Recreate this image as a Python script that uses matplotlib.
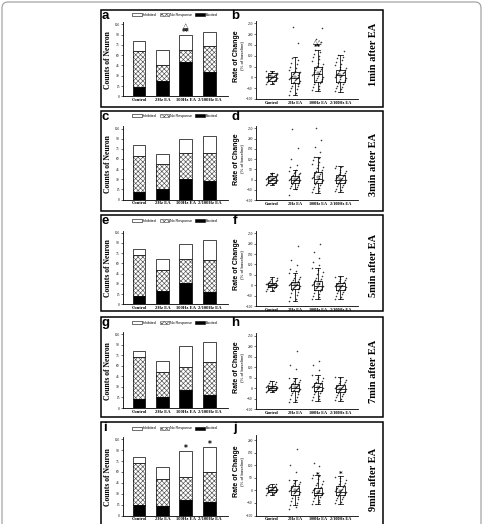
import numpy as np
import matplotlib
matplotlib.use('Agg')
import matplotlib.pyplot as plt
from matplotlib.patches import Rectangle, FancyBboxPatch, Patch

plt.rcParams['font.family'] = ['Liberation Serif', 'DejaVu Sans']
plt.rcParams['hatch.linewidth'] = 0.45

W, H = 483, 524

groups = ['Control', '2Hz EA', '100Hz EA', '2/100Hz EA']
times = ['1min after EA', '3min after EA', '5min after EA', '7min after EA', '9min after EA']
left_letters = ['a', 'c', 'e', 'g', 'i']
right_letters = ['b', 'd', 'f', 'h', 'j']
legend_labels = ['Inhibited', 'No Response', 'Excited']

# counts of neurons, one row per time point
excited = [[13, 22, 50, 36], [11, 16, 31, 28], [12, 19, 31, 18], [13, 16, 26, 19], [14, 13, 21, 18]]
no_response = [[53, 24, 17, 37], [54, 36, 38, 41], [60, 31, 36, 47], [60, 35, 33, 46], [58, 37, 32, 42]]
inhibited = [[15, 21, 22, 21], [16, 15, 20, 25], [9, 17, 22, 29], [8, 16, 30, 29], [9, 17, 36, 34]]

# rate of change (% of baseline) box stats
q1 = [[-17, -28, -20, -20], [-15, -15, -15, -18], [-10, -16, -21, -22], [-9, -16, -16, -20], [-7, -17, -20, -17]]
med = [[0, -5, 15, 11], [0, -2, 2, -2], [0, 2, -5, -6], [0, 0, 3, -5], [3, -1, -11, -7]]
q3 = [[18, 26, 49, 34], [15, 15, 39, 23], [10, 16, 22, 10], [11, 19, 22, 14], [12, 16, 9, 16]]
whislo = [[-31, -82, -62, -66], [-26, -46, -64, -59], [-29, -76, -68, -65], [-20, -68, -60, -60], [-20, -60, -54, -53]]
whishi = [[31, 92, 126, 103], [34, 47, 112, 67], [38, 59, 83, 43], [35, 47, 61, 53], [26, 42, 62, 56]]
means = [[1, 3, 22, 10], [1, 3, 14, 1], [1, 4, 6, -6], [2, 3, 6, -3], [2, 2, -6, -3]]

# individual neurons
points_1min = [
    [-30, -26, -22, -18, -15, -12, -10, -8, -6, -5, -3, -2, 0, 1, 2, 4, 5, 7, 9, 10, 12, 13, 16, 18, 20, 24, 28],
    [-80, -72, -65, -55, -50, -42, -38, -32, -28, -24, -20, -16, -12, -9, -6, -4, -2, 1, 4, 7, 10, 14, 18, 22,
     26, 30, 35, 42, 50, 60, 68, 80, 90, 160, 232],
    [-60, -52, -45, -38, -30, -24, -20, -15, -10, -6, -2, 2, 6, 10, 14, 17, 20, 24, 28, 33, 38, 43, 48, 54, 60,
     68, 75, 84, 92, 100, 110, 118, 125, 165, 178, 228],
    [-65, -56, -50, -44, -38, -32, -26, -20, -16, -12, -8, -4, 0, 3, 6, 9, 12, 15, 18, 22, 25, 28, 32, 37, 42,
     48, 55, 62, 70, 80, 88, 95, 102, 122],
]
points_3min = [
    [-25, -22, -20, -17, -14, -11, -9, -7, -5, -3, -2, 0, 1, 3, 5, 6, 8, 10, 12, 14, 17, 19, 22, 25, 29, 33],
    [-75, -45, -40, -35, -30, -25, -20, -15, -12, -8, -5, -3, -1, 0, 2, 4, 6, 9, 12, 15, 18, 22, 26, 30, 34,
     38, 42, 46, 60, 72, 99, 156, 249],
    [-62, -55, -48, -42, -35, -28, -22, -17, -12, -8, -5, -2, 2, 5, 8, 12, 16, 20, 25, 30, 35, 40, 48, 55, 62,
     70, 78, 86, 95, 103, 110, 135, 160, 195, 250],
    [-58, -50, -45, -38, -32, -27, -22, -18, -14, -10, -7, -4, -2, 0, 3, 6, 9, 12, 15, 19, 22, 26, 30, 36, 42,
     48, 55, 60, 66],
]
points_5min = [
    [-28, -22, -18, -14, -10, -8, -6, -4, -3, -1, 0, 1, 2, 4, 5, 7, 8, 10, 12, 15, 18, 22, 26, 31, 37],
    [-75, -66, -55, -46, -38, -31, -25, -20, -15, -11, -8, -5, -2, 0, 3, 5, 8, 11, 14, 17, 20, 25, 30, 36, 42,
     50, 58, 70, 80, 95, 120, 190],
    [-66, -58, -50, -43, -36, -30, -24, -19, -14, -10, -7, -4, -2, 1, 4, 8, 12, 16, 20, 25, 30, 37, 45, 53, 62,
     72, 82, 95, 110, 130, 160, 200],
    [-64, -57, -50, -44, -38, -33, -28, -24, -20, -16, -13, -10, -7, -4, -2, 1, 3, 6, 9, 12, 16, 20, 25, 30, 34,
     38, 42],
]
points_7min = [
    [-19, -16, -14, -11, -9, -7, -5, -3, -2, 0, 1, 3, 4, 6, 8, 10, 12, 15, 18, 22, 27, 34],
    [-66, -58, -50, -42, -35, -28, -22, -18, -14, -10, -7, -4, -1, 1, 3, 6, 8, 11, 14, 17, 20, 24, 28, 33, 37,
     42, 46, 90, 110, 175],
    [-58, -51, -44, -37, -30, -25, -20, -16, -12, -8, -5, -2, 1, 3, 6, 9, 12, 15, 18, 22, 25, 30, 35, 41, 48,
     54, 60, 85, 110, 130],
    [-58, -51, -45, -39, -33, -28, -24, -20, -16, -12, -9, -6, -4, -2, 0, 3, 5, 8, 11, 14, 18, 23, 28, 34, 40,
     46, 52],
]
points_9min = [
    [-19, -15, -12, -9, -7, -5, -3, -1, 0, 2, 3, 4, 6, 8, 9, 11, 13, 16, 18, 21, 25],
    [-75, -66, -58, -50, -42, -36, -30, -25, -20, -16, -12, -8, -5, -2, 0, 3, 5, 8, 11, 14, 17, 21, 25, 29, 33,
     37, 41, 75, 100, 165],
    [-53, -47, -42, -37, -32, -28, -24, -20, -17, -14, -12, -10, -8, -5, -3, 0, 2, 5, 8, 11, 15, 20, 25, 31, 38,
     44, 50, 56, 61, 95, 110],
    [-52, -46, -40, -35, -30, -26, -22, -18, -15, -12, -9, -6, -4, -1, 1, 4, 7, 10, 13, 16, 20, 25, 30, 36, 42,
     48, 55],
]
all_points = [points_1min, points_3min, points_5min, points_7min, points_9min]

# significance marks: (row, group, value, text)
bar_marks = [(0, 2, 93, '**'), (0, 2, 103, '△'), (4, 2, 93, '*'), (4, 3, 98, '*')]
box_marks = [(0, 2, 140, '**'), (0, 2, 166, '△△'), (4, 2, 62, '*'), (4, 3, 66, '*')]

# layout in pixels
row_top = [10, 111, 215, 317, 422]
row_bot = [107, 211, 311, 417, 540]
bar_y0 = [96.3, 199.5, 304.3, 408, 515.5]
bar_y105 = [24.3, 128.5, 232.7, 334.3, 439.3]
box_ym100 = [99, 200, 306, 409, 515.5]
box_y250 = [23.3, 128.3, 233.3, 335.7, 427.5]
box_top = [262, 262, 262, 262, 220]
legend_y = [14.7, 115.7, 220.7, 323, 428.3]
time_y = [54, 164, 265, 371, 479]

fig = plt.figure(figsize=(W / 100, H / 100), dpi=100)


def px_axes(x0, x1, y_top, y_bot):
    return fig.add_axes([x0 / W, 1 - y_bot / H, (x1 - x0) / W, (y_bot - y_top) / H])


def style_axes(ax):
    for side in ['top', 'right']:
        ax.spines[side].set_visible(False)
    for side in ['left', 'bottom']:
        ax.spines[side].set_linewidth(0.6)
    ax.patch.set_alpha(0)
    ax.tick_params(axis='y', length=1.5, width=0.4, labelsize=2.6, pad=0.8)
    ax.tick_params(axis='x', length=0, labelsize=3.3, pad=1.3)
    for lbl in ax.get_xticklabels():
        lbl.set_fontweight('bold')


# outer frame
fig.patches.append(FancyBboxPatch((2 / W, -0.05), 479 / W, 1 - 2 / H + 0.05,
                                  boxstyle='round,pad=0,rounding_size=0.012',
                                  transform=fig.transFigure, figure=fig,
                                  fill=False, edgecolor='#9a9a9a', lw=0.8))

handles = [Patch(facecolor='white', edgecolor='black', lw=0.4),
           Patch(facecolor='white', edgecolor='#505050', hatch='xxxxxxx', lw=0.4),
           Patch(facecolor='black', edgecolor='black', lw=0.4)]

x = np.arange(4)
pos = np.arange(1, 5)

for r in range(5):
    fig.patches.append(Rectangle((101 / W, 1 - row_bot[r] / H), 282 / W, (row_bot[r] - row_top[r]) / H,
                                 transform=fig.transFigure, figure=fig, fill=False,
                                 edgecolor='black', lw=1.1))

    # stacked bars
    s = (bar_y0[r] - bar_y105[r]) / 105
    ax = px_axes(123, 228, bar_y0[r] - 108 * s, bar_y0[r])
    exc = np.array(excited[r])
    nr = np.array(no_response[r])
    inh = np.array(inhibited[r])
    ax.bar(x, exc, 0.55, color='black', edgecolor='black', lw=0.5)
    ax.bar(x, nr, 0.55, bottom=exc, facecolor='white', edgecolor='#505050', hatch='xxxxxxx', lw=0)
    ax.bar(x, nr, 0.55, bottom=exc, facecolor='none', edgecolor='black', lw=0.5)
    ax.bar(x, inh, 0.55, bottom=exc + nr, facecolor='white', edgecolor='black', lw=0.5)
    ax.set_xlim(-0.68, 3.79)
    ax.set_ylim(0, 108)
    ax.set_yticks(range(0, 106, 15))
    ax.set_xticks(x)
    ax.set_xticklabels(groups)
    style_axes(ax)
    for rr, g, v, t in bar_marks:
        if rr == r:
            ax.text(g, v, t, ha='center', va='center', fontsize=5.5 if t != '△' else 5,
                    fontweight='bold', family=['DejaVu Sans'])
    ax.legend(handles, legend_labels, loc='center', bbox_to_anchor=(175 / W, 1 - legend_y[r] / H),
              bbox_transform=fig.transFigure, ncol=3, frameon=False,
              handlelength=2.6, handleheight=0.9, columnspacing=0.9, handletextpad=0.3,
              prop={'family': 'Liberation Sans', 'size': 2.6})
    fig.text(108 / W, 1 - (bar_y0[r] + bar_y105[r]) / 2 / H, 'Counts of Neuron', rotation=90,
             ha='center', va='center', fontsize=5.5, fontweight='bold')
    fig.text(105 / W, 1 - (row_top[r] + 6) / H, left_letters[r], ha='center', va='center',
             fontsize=9.5, fontweight='bold', family='Liberation Sans')

    # box plots
    s = (box_ym100[r] - box_y250[r]) / 350
    bx = px_axes(256, 358, box_ym100[r] - (box_top[r] + 100) * s, box_ym100[r])
    pts = all_points[r]
    for i in range(4):
        v = np.array(pts[i])
        n = len(v)
        jit = ((np.arange(n) * 7) % 13 - 6) / 6 * 0.24
        bx.scatter(pos[i] + jit, v, s=1.3, color='#3a3a3a', lw=0, zorder=1)
    stats = [dict(q1=q1[r][i], med=med[r][i], q3=q3[r][i], whislo=whislo[r][i],
                  whishi=whishi[r][i], mean=means[r][i]) for i in range(4)]
    bx.bxp(stats, positions=pos, widths=0.36, showmeans=True, showfliers=False,
           boxprops=dict(color='black', lw=0.55), medianprops=dict(color='black', lw=0.55),
           whiskerprops=dict(color='black', lw=0.55), capprops=dict(color='black', lw=0.55),
           meanprops=dict(marker='s', markersize=1.6, markerfacecolor='none',
                          markeredgecolor='black', markeredgewidth=0.3), capwidths=0.2)
    bx.set_xlim(0.3, 4.77)
    bx.set_ylim(-100, box_top[r])
    bx.set_yticks(range(-100, box_top[r] - 10, 50))
    bx.set_xticks(pos)
    bx.set_xticklabels(groups)
    style_axes(bx)
    bx.tick_params(axis='x', labelsize=3.1)
    for rr, g, v, t in box_marks:
        if rr == r:
            bx.text(pos[g], v, t, ha='center', va='center', fontsize=5 if '△' not in t else 4.5,
                    fontweight='bold', family=['DejaVu Sans'])
    yc = (box_ym100[r] + box_ym100[r] - (box_top[r] + 100) * s) / 2 - 4
    fig.text(236 / W, 1 - yc / H, 'Rate of Change', rotation=90, ha='center', va='center',
             fontsize=5, fontweight='bold', family='Liberation Sans')
    fig.text(242.5 / W, 1 - yc / H, '(% of baseline)', rotation=90, ha='center', va='center',
             fontsize=3.2, family='Liberation Sans')
    fig.text(235 / W, 1 - (row_top[r] + 6) / H, right_letters[r], ha='center', va='center',
             fontsize=9.5, fontweight='bold', family='Liberation Sans')
    fig.text(373 / W, 1 - time_y[r] / H, times[r], rotation=90, ha='center', va='center',
             fontsize=7.5, fontweight='bold')

fig.savefig('out.png', dpi=100)
